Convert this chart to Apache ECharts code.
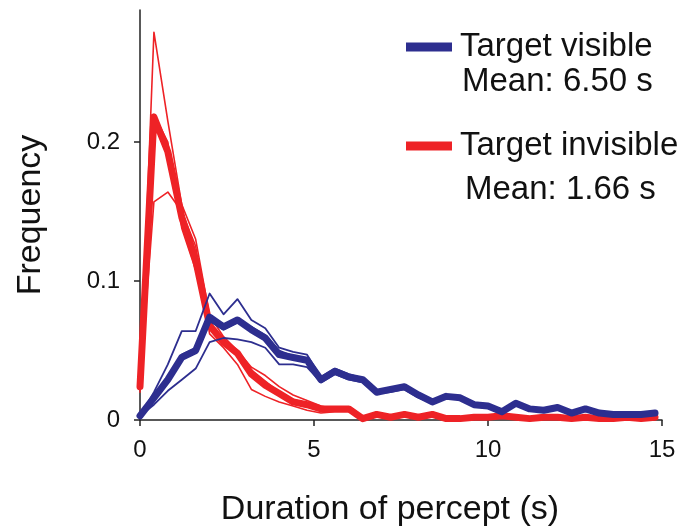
<!DOCTYPE html>
<html>
<head>
<meta charset="utf-8">
<script src="https://cdn.jsdelivr.net/npm/echarts@6/dist/echarts.min.js"></script>
<style>html,body{margin:0;padding:0;background:#fff}#c{width:691px;height:530px}</style>
</head>
<body>
<div id="c"></div>
<script>
var durations = [0,0.4,0.8,1.2,1.6,2.0,2.4,2.8,3.2,3.6,4.0,4.4,4.8,5.2,5.6,6.0,6.4,6.8,7.2,7.6,8.0,8.4,8.8,9.2,9.6,10.0,10.4,10.8,11.2,11.6,12.0,12.4,12.8,13.2,13.6,14.0,14.4,14.8];

var visibleMean = [0.003,0.016,0.029,0.045,0.050,0.074,0.067,0.072,0.065,0.059,0.047,0.045,0.043,0.029,0.035,0.031,0.029,0.020,0.022,0.024,0.018,0.013,0.017,0.016,0.011,0.010,0.006,0.012,0.008,0.007,0.009,0.005,0.008,0.005,0.004,0.004,0.004,0.005];
var visibleSubj1 = [0.003,0.020,0.040,0.064,0.064,0.091,0.076,0.087,0.072,0.066,0.052,0.049,0.047,0.031,0.037,0.033,0.030,0.021,0.023,0.025,0.019,0.014,0.018,0.016,0.012,0.010,0.007,0.012,0.009,0.007,0.009,0.005,0.008,0.005,0.004,0.004,0.004,0.005];
var visibleSubj2 = [0.003,0.011,0.021,0.029,0.037,0.056,0.059,0.058,0.056,0.052,0.040,0.040,0.038,0.027,0.033,0.029,0.027,0.019,0.020,0.022,0.016,0.012,0.016,0.015,0.010,0.009,0.006,0.011,0.008,0.006,0.008,0.005,0.007,0.005,0.003,0.004,0.004,0.004];
var visibleSubj3 = [0.003,0.017,0.031,0.047,0.052,0.071,0.065,0.070,0.067,0.061,0.050,0.046,0.044,0.030,0.036,0.032,0.030,0.021,0.022,0.023,0.018,0.013,0.017,0.016,0.011,0.010,0.006,0.012,0.008,0.007,0.009,0.005,0.008,0.005,0.004,0.004,0.004,0.005];

var invisibleMean = [0.024,0.218,0.193,0.146,0.115,0.068,0.056,0.048,0.033,0.025,0.019,0.013,0.011,0.008,0.008,0.008,0.001,0.004,0.002,0.004,0.002,0.004,0.001,0.001,0.002,0.002,0.003,0.002,0.001,0.002,0.002,0.001,0.002,0.001,0.001,0.002,0.001,0.002];
var invisibleSubj1 = [0.020,0.279,0.215,0.155,0.130,0.075,0.060,0.050,0.038,0.032,0.024,0.018,0.014,0.010,0.008,0.008,0.001,0.004,0.002,0.004,0.002,0.004,0.001,0.001,0.002,0.002,0.003,0.002,0.001,0.002,0.002,0.001,0.002,0.001,0.001,0.002,0.001,0.002];
var invisibleSubj2 = [0.025,0.157,0.164,0.150,0.125,0.062,0.052,0.040,0.022,0.017,0.013,0.010,0.007,0.005,0.006,0.006,0.000,0.003,0.002,0.003,0.002,0.003,0.001,0.001,0.002,0.001,0.002,0.002,0.001,0.001,0.002,0.001,0.001,0.001,0.001,0.001,0.001,0.001];
var invisibleSubj3 = [0.024,0.220,0.200,0.138,0.108,0.070,0.055,0.046,0.036,0.028,0.020,0.015,0.012,0.009,0.008,0.008,0.001,0.004,0.002,0.004,0.002,0.004,0.001,0.001,0.002,0.002,0.003,0.002,0.001,0.002,0.002,0.001,0.002,0.001,0.001,0.002,0.001,0.002];

var xTicks = [0,5,10,15];
var yTicks = [0,0.1,0.2];
var legendNames = ['Target visible','Target invisible'];
var meanLabels = ['Mean: 6.50 s','Mean: 1.66 s'];

var BLUE = '#2d2e8f', RED = '#ee2226';
var FONT = '"Liberation Sans", Arial, Helvetica, sans-serif';

function pairs(vals){ return durations.map(function(d,i){ return [d, vals[i]]; }); }
function line(name, vals, color, width, z){
  return { name: name, type: 'line', data: pairs(vals), symbol: 'none', color: color, z: z,
    lineStyle: { color: color, width: width, join: 'round', cap: 'round' }, silent: true };
}

var chart = echarts.init(document.getElementById('c'), null, {renderer:'canvas'});
chart.setOption({
  animation: false,
  backgroundColor: '#fff',
  grid: { left: 140, right: 29, top: 10, bottom: 110, containLabel: false, outerBoundsMode: 'none' },
  xAxis: {
    type: 'value', min: 0, max: 15, interval: 5,
    name: 'Duration of percept (s)', nameLocation: 'middle', nameGap: 73,
    nameTextStyle: { fontFamily: FONT, fontSize: 34, color: '#111', padding: [0, 22, 0, 0] },
    axisLine: { lineStyle: { color: '#222', width: 1.5 } },
    axisTick: { length: 6, lineStyle: { color: '#222', width: 1.5 }, customValues: xTicks },
    axisLabel: { fontFamily: FONT, fontSize: 24, color: '#111', margin: 18, customValues: xTicks },
    splitLine: { show: false }
  },
  yAxis: {
    type: 'value', min: 0, max: 0.295,
    name: 'Frequency', nameLocation: 'middle', nameGap: 92, nameRotate: 90,
    nameTextStyle: { fontFamily: FONT, fontSize: 34, color: '#111' },
    axisLine: { show: true, lineStyle: { color: '#222', width: 1.5 } },
    axisTick: { show: true, length: 6, lineStyle: { color: '#222', width: 1.5 }, customValues: yTicks },
    axisLabel: { fontFamily: FONT, fontSize: 24, color: '#111', margin: 20, customValues: yTicks,
      formatter: function(v){ return v === 0 ? '0' : String(+v.toFixed(1)); } },
    splitLine: { show: false }
  },
  legend: {
    orient: 'vertical', left: 401, top: 22,
    data: legendNames, icon: 'rect', itemWidth: 46, itemHeight: 9, itemGap: 59,
    selectedMode: false,
    textStyle: { fontFamily: FONT, fontSize: 33, color: '#111', lineHeight: 40, padding: [0,0,0,3] }
  },
  graphic: [
    { type: 'text', left: 462, top: 65, style: { text: meanLabels[0], font: '33px ' + FONT, fill: '#111' } },
    { type: 'text', left: 465, top: 173, style: { text: meanLabels[1], font: '33px ' + FONT, fill: '#111' } }
  ],
  series: [
    line('Target invisible subject 1', invisibleSubj1, RED, 1.6, 2),
    line('Target invisible subject 2', invisibleSubj2, RED, 1.6, 2),
    line('Target invisible subject 3', invisibleSubj3, RED, 1.6, 2),
    line('Target invisible', invisibleMean, RED, 7, 3),
    line('Target visible subject 1', visibleSubj1, BLUE, 1.8, 4),
    line('Target visible subject 2', visibleSubj2, BLUE, 1.8, 4),
    line('Target visible subject 3', visibleSubj3, BLUE, 1.8, 4),
    line('Target visible', visibleMean, BLUE, 7, 5)
  ]
});
</script>
</body>
</html>
